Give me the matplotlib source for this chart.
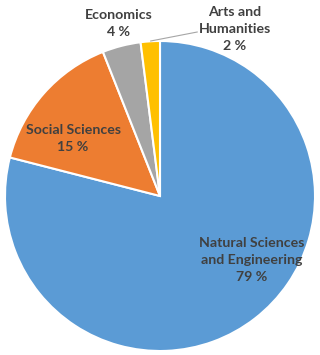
import matplotlib
matplotlib.use("Agg")
import matplotlib.pyplot as plt

categories = ["Natural Sciences\nand Engineering", "Social Sciences", "Economics", "Arts and\nHumanities"]
shares = [79, 15, 4, 2]
colors = ["#5B9BD5", "#ED7D31", "#A5A5A5", "#FFC000"]

plt.rcParams['font.family'] = ['Lato', 'DejaVu Sans']

fig = plt.figure(figsize=(3.2, 3.55), dpi=100)
ax = fig.add_axes([5 / 320, 4 / 355, 310 / 320, 310 / 355])
wedges, _ = ax.pie(shares, colors=colors, startangle=90, counterclock=False,
                   radius=1, wedgeprops=dict(edgecolor="white", linewidth=1.5))
ax.set_xlim(-1, 1)
ax.set_ylim(-1, 1)
ax.set_aspect("auto")
ax.axis("off")

# label spots, picked to match the reference layout
label_pos = [(0.594, -0.41), (-0.561, 0.37), (-0.265, 1.115), (0.484, 1.075)]
for name, val, (lx, ly) in zip(categories, shares, label_pos):
    ax.text(lx, ly, "{}\n{} %".format(name, val), ha="center", va="center",
            fontsize=10.2, fontweight="bold", color="#404040", linespacing=1.5,
            clip_on=False)

# leader line for the small slice
ax.plot([-0.06, 0.24], [1.0, 1.058], color="#A6A6A6", linewidth=0.8, clip_on=False)

fig.savefig("out.png", dpi=100)
